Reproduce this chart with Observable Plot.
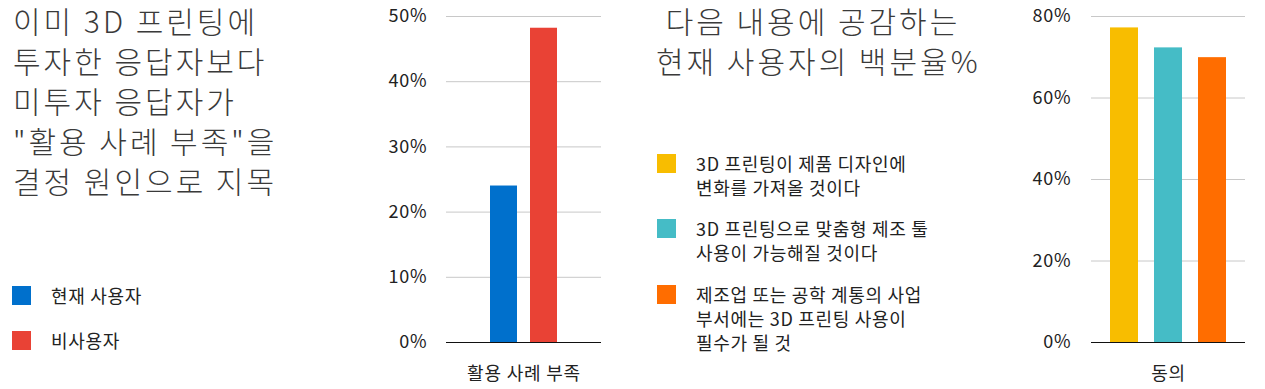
<!DOCTYPE html>
<html><head><meta charset="utf-8">
<script src="https://cdn.jsdelivr.net/npm/d3@7"></script>
<script src="https://cdn.jsdelivr.net/npm/@observablehq/plot@0.6"></script>
<style>
html,body{margin:0;padding:0;background:#fff;}
body{width:1265px;height:389px;position:relative;overflow:hidden;font-family:"Noto Sans CJK KR","Noto Sans",sans-serif;}
.abs{position:absolute;}
.title{font-size:30px;line-height:40px;font-weight:300;color:#3a3a3a;white-space:pre;letter-spacing:3px;}
.legend{font-size:18px;line-height:24px;color:#222;letter-spacing:0.7px;}
.item{position:absolute;display:flex;align-items:flex-start;}
.sw{width:19px;height:19px;flex:none;}
.lt{white-space:pre;}
svg text{letter-spacing:0.8px;}
</style></head>
<body>
<div id="root"></div>
<script>
// ---- data ----
const leftTitle = "이미 3D 프린팅에\n투자한 응답자보다\n미투자 응답자가\n\"활용 사례 부족\"을\n결정 원인으로 지목";
const leftGroups = ["활용 사례 부족"];
const leftSeries = ["현재 사용자", "비사용자"];
const leftValues = [0.24, 0.482];
const leftColors = ["#0070CC", "#E94235"];
const leftTicks = [0, 0.1, 0.2, 0.3, 0.4, 0.5];

const rightTitle = " 다음 내용에 공감하는\n현재 사용자의 백분율%";
const rightGroups = ["동의"];
const rightSeries = ["3D 프린팅이 제품 디자인에\n변화를 가져올 것이다", "3D 프린팅으로 맞춤형 제조 툴\n사용이 가능해질 것이다", "제조업 또는 공학 계통의 사업\n부서에는 3D 프린팅 사용이\n필수가 될 것"];
const rightValues = [0.772, 0.723, 0.699];
const rightColors = ["#F8BD00", "#45BCC6", "#FF6D00"];
const rightTicks = [0, 0.2, 0.4, 0.6, 0.8];

const root = document.getElementById("root");
function add(html, style, cls) {
  const d = document.createElement("div");
  d.className = "abs " + (cls || "");
  Object.assign(d.style, style);
  if (html instanceof Node) d.appendChild(html); else d.textContent = html;
  root.appendChild(d);
  return d;
}

// titles
add(leftTitle, {left: "13px", top: "0px"}, "title");
add(rightTitle, {left: "656px", top: "0px"}, "title");

// legends
function legend(series, colors, left, tops) {
  series.forEach((s, i) => {
    const it = document.createElement("div");
    it.className = "item legend";
    it.style.left = left + "px";
    it.style.top = tops[i] + "px";
    const sw = document.createElement("div");
    sw.className = "sw";
    sw.style.background = colors[i];
    const t = document.createElement("div");
    t.className = "lt";
    t.style.marginLeft = "20px";
    t.style.marginTop = "-3px";
    t.textContent = s;
    it.appendChild(sw); it.appendChild(t);
    root.appendChild(it);
  });
}
legend(leftSeries, leftColors, 12, [286, 331]);
legend(rightSeries, rightColors, 657, [154, 219, 285]);

function chart(groups, series, values, colors, ticks, opts) {
  const rows = series.map((s, i) => ({group: groups[0], series: s, value: values[i]}));
  return Plot.plot({
    width: opts.width,
    height: 389,
    marginLeft: opts.marginLeft,
    marginRight: opts.marginRight,
    marginTop: 16,
    marginBottom: 47,
    style: {fontFamily: "'Noto Sans CJK KR', 'Noto Sans', sans-serif", fontSize: "18px", color: "#222", background: "transparent"},
    fx: {domain: groups, padding: 0, axis: "bottom", tickSize: 0, tickPadding: 25, label: null},
    x: {domain: series, axis: null, paddingInner: opts.pi, paddingOuter: opts.po},
    y: {domain: [0, ticks[ticks.length - 1]], ticks: ticks, tickFormat: d3.format(".0%"), tickSize: 0, tickPadding: opts.tp, label: null},
    color: {domain: series, range: colors},
    marks: [
      Plot.ruleY(ticks.slice(1), {stroke: "#c8c8c8", strokeWidth: 1}),
      Plot.barY(rows, {fx: "group", x: "series", y: "value", fill: "series"}),
      Plot.ruleY([0], {stroke: "#111", strokeWidth: 1})
    ]
  });
}

const c1 = chart(leftGroups, leftSeries, leftValues, leftColors, leftTicks,
  {width: 240, marginLeft: 76, marginRight: 9, pi: 0.317, po: 1.05, tp: 19});
add(c1, {left: "370px", top: "0px"});

const c2 = chart(rightGroups, rightSeries, rightValues, rightColors, rightTicks,
  {width: 265, marginLeft: 91, marginRight: 20, pi: 0.37, po: 0.415, tp: 20});
add(c2, {left: "1000px", top: "0px"});
</script>
</body></html>
